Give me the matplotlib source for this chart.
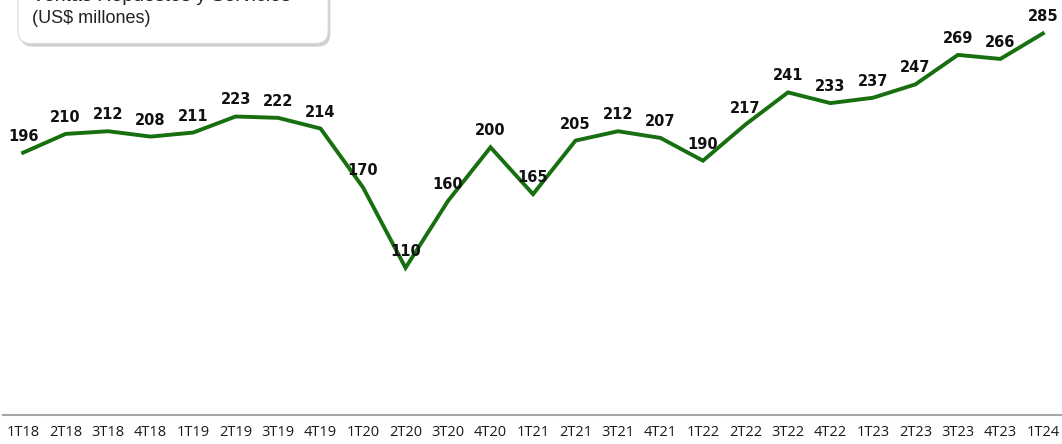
import matplotlib
matplotlib.use("Agg")
import matplotlib.pyplot as plt
from matplotlib.patches import FancyBboxPatch

# ── data ──────────────────────────────────────────────────────────────────────
quarters = ["1T18", "2T18", "3T18", "4T18", "1T19", "2T19", "3T19", "4T19",
            "1T20", "2T20", "3T20", "4T20", "1T21", "2T21", "3T21", "4T21",
            "1T22", "2T22", "3T22", "4T22", "1T23", "2T23", "3T23", "4T23", "1T24"]
ventas = [196, 210, 212, 208, 211, 223, 222, 214,
          170, 110, 160, 200, 165, 205, 212, 207,
          190, 217, 241, 233, 237, 247, 269, 266, 285]

title = "Ventas Repuestos y Servicios"
subtitle = "(US$ millones)"

# ── figure ────────────────────────────────────────────────────────────────────
fig = plt.figure(figsize=(10.62, 4.44), dpi=100)
ax = fig.add_axes([0.003, 0.065, 0.997, 0.935])

x = range(len(quarters))
ax.plot(x, ventas, color="#176f10", lw=2.8, solid_joinstyle="miter")

for xi, v in zip(x, ventas):
    ax.annotate(str(v), (xi, v), xytext=(0, 6.5), textcoords="offset points",
                ha="center", va="bottom", fontsize=10.5, fontweight="bold",
                color="#111111")

ax.set_xlim(-0.47, len(quarters) - 1 + 0.45)
ax.set_ylim(0, 310)
ax.set_xticks(list(x))
ax.set_xticklabels(quarters, fontsize=10.5, family="Open Sans", color="#1a1a1a")
ax.tick_params(axis="x", length=0, pad=7)
ax.set_yticks([])
for s in ["top", "right", "left"]:
    ax.spines[s].set_visible(False)
ax.spines["bottom"].set_color("#a6a6a6")
ax.spines["bottom"].set_linewidth(1.5)

# ── legend-like box, clipped at the top ──────────────────────────────────────
shadow = FancyBboxPatch((0.019, 0.895), 0.292, 0.2,
                        boxstyle="round,pad=0,rounding_size=0.012",
                        transform=fig.transFigure, facecolor="#cfcfcf",
                        edgecolor="none", mutation_aspect=2.4, zorder=1)
box = FancyBboxPatch((0.017, 0.902), 0.292, 0.2,
                     boxstyle="round,pad=0,rounding_size=0.012",
                     transform=fig.transFigure, facecolor="white",
                     edgecolor="#d9d9d9", lw=0.8, mutation_aspect=2.4, zorder=2)
fig.patches.extend([shadow, box])
fig.text(0.03, 1.008, title, fontsize=14, family="Liberation Sans",
         va="center", ha="left", color="#222222", zorder=3)
fig.text(0.03, 0.958, subtitle, fontsize=13, family="Liberation Sans",
         va="center", ha="left", color="#222222", zorder=3)

fig.savefig("out.png", dpi=100)
